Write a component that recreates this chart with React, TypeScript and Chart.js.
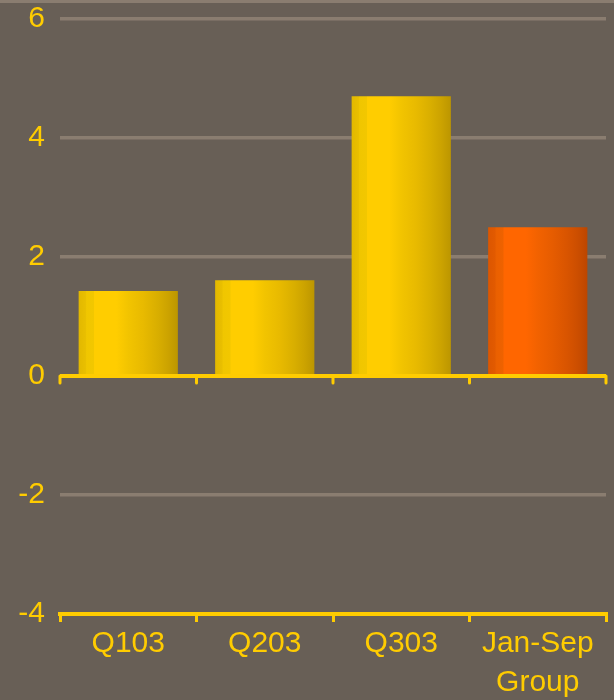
import React, { useEffect, useRef } from "react";
import { Chart, registerables } from "chart.js";

Chart.register(...registerables);

const categories: (string | string[])[] = ["Q103", "Q203", "Q303", ["Jan-Sep", "Group"]];
const values: number[] = [1.43, 1.61, 4.7, 2.5];
const yTicks: number[] = [-4, -2, 0, 2, 4, 6];

const YELLOW = "#FFCC00";
const BG = "#685F56";
const GRID = "#8A7D70";
const FONT = "'Liberation Sans', Arial, sans-serif";
const BAR_PCT = 0.727;

const yellowStops: [number, string][] = [
  [0, "#E2B800"], [0.07, "#E9BF00"], [0.08, "#F0C600"], [0.15, "#F2C700"], [0.16, "#FFCD00"],
  [0.38, "#FFCD00"], [0.5, "#F2C400"], [0.65, "#E8BA00"], [0.8, "#D8AE00"], [0.9, "#CCA300"], [1, "#BC9600"],
];
const orangeStops: [number, string][] = [
  [0, "#DC5600"], [0.07, "#E25A00"], [0.08, "#EA6000"], [0.15, "#EE6200"], [0.16, "#FF6600"],
  [0.38, "#FF6600"], [0.5, "#F26200"], [0.65, "#E65C00"], [0.8, "#D85400"], [0.9, "#CC4E00"], [1, "#BC4600"],
];

export default function App() {
  const ref = useRef<HTMLCanvasElement>(null);

  useEffect(() => {
    document.body.style.margin = "0";
    document.body.style.background = BG;
    const canvas = ref.current!;

    const zeroLine = {
      id: "zeroLine",
      afterDatasetsDraw(chart: any) {
        const { ctx, chartArea, scales } = chart;
        const y0 = scales.y.getPixelForValue(0);
        const n = categories.length;
        const step = (chartArea.right - chartArea.left) / n;
        ctx.save();
        ctx.strokeStyle = YELLOW;
        ctx.lineWidth = 3;
        ctx.lineCap = "round";
        for (let i = 0; i <= n; i++) {
          const x = chartArea.left + i * step;
          ctx.beginPath();
          ctx.moveTo(x, y0);
          ctx.lineTo(x, y0 + 7);
          ctx.stroke();
        }
        ctx.lineCap = "butt";
        ctx.lineWidth = 4;
        ctx.beginPath();
        ctx.moveTo(chartArea.left, y0);
        ctx.lineTo(chartArea.right, y0);
        ctx.stroke();
        ctx.restore();
      },
    };

    const chart = new Chart(canvas, {
      type: "bar",
      data: {
        labels: categories,
        datasets: [
          {
            data: values,
            barPercentage: BAR_PCT,
            categoryPercentage: 1,
            borderWidth: 0,
            backgroundColor: (c: any) => {
              const idx = c.dataIndex ?? 0;
              const stops = idx === values.length - 1 ? orangeStops : yellowStops;
              const ch = c.chart;
              const xs = ch.scales?.x;
              if (!xs || !ch.chartArea) return stops[5][1];
              const cx = xs.getPixelForValue(idx);
              const half = ((xs.right - xs.left) / categories.length) * BAR_PCT / 2;
              const g = ch.ctx.createLinearGradient(cx - half, 0, cx + half, 0);
              stops.forEach(([o, col]) => g.addColorStop(o, col));
              return g;
            },
          },
        ],
      },
      options: {
        animation: false,
        responsive: false,
        maintainAspectRatio: false,
        layout: { padding: { top: 19, right: 8, left: 0, bottom: 0 } },
        plugins: { legend: { display: false }, tooltip: { enabled: false } },
        scales: {
          x: {
            type: "category",
            position: "bottom",
            border: { display: true, color: YELLOW, width: 4 },
            grid: {
              display: true,
              offset: true,
              drawOnChartArea: false,
              drawTicks: true,
              tickLength: 8,
              color: YELLOW,
              lineWidth: 3,
            },
            ticks: {
              color: YELLOW,
              font: { family: FONT, size: 30, lineHeight: 1.3 },
              padding: 2,
              maxRotation: 0,
              autoSkip: false,
            },
            afterFit: (s: any) => { s.height = 86; s.paddingLeft = 0; s.paddingRight = 0; },
          },
          y: {
            min: -4,
            max: 6,
            afterBuildTicks: (s: any) => { s.ticks = yTicks.map((v) => ({ value: v })); },
            border: { display: false },
            grid: {
              drawTicks: false,
              lineWidth: 3.5,
              color: (c: any) => (c.tick && (c.tick.value === 0 || c.tick.value === -4) ? "rgba(0,0,0,0)" : GRID),
            },
            ticks: {
              color: YELLOW,
              font: { family: FONT, size: 30 },
              padding: 15,
            },
            afterFit: (s: any) => { s.width = 60; s.paddingTop = 0; s.paddingBottom = 0; },
          },
        },
      },
      plugins: [zeroLine],
    } as any);

    return () => chart.destroy();
  }, []);

  return (
    <div style={{ width: 614, height: 700, background: BG, position: "relative", boxSizing: "border-box" }}>
      <div style={{ position: "absolute", left: 0, top: 0, width: 614, height: 3, background: GRID }} />
      <canvas ref={ref} width={614} height={700} style={{ display: "block", width: 614, height: 700 }} />
    </div>
  );
}
